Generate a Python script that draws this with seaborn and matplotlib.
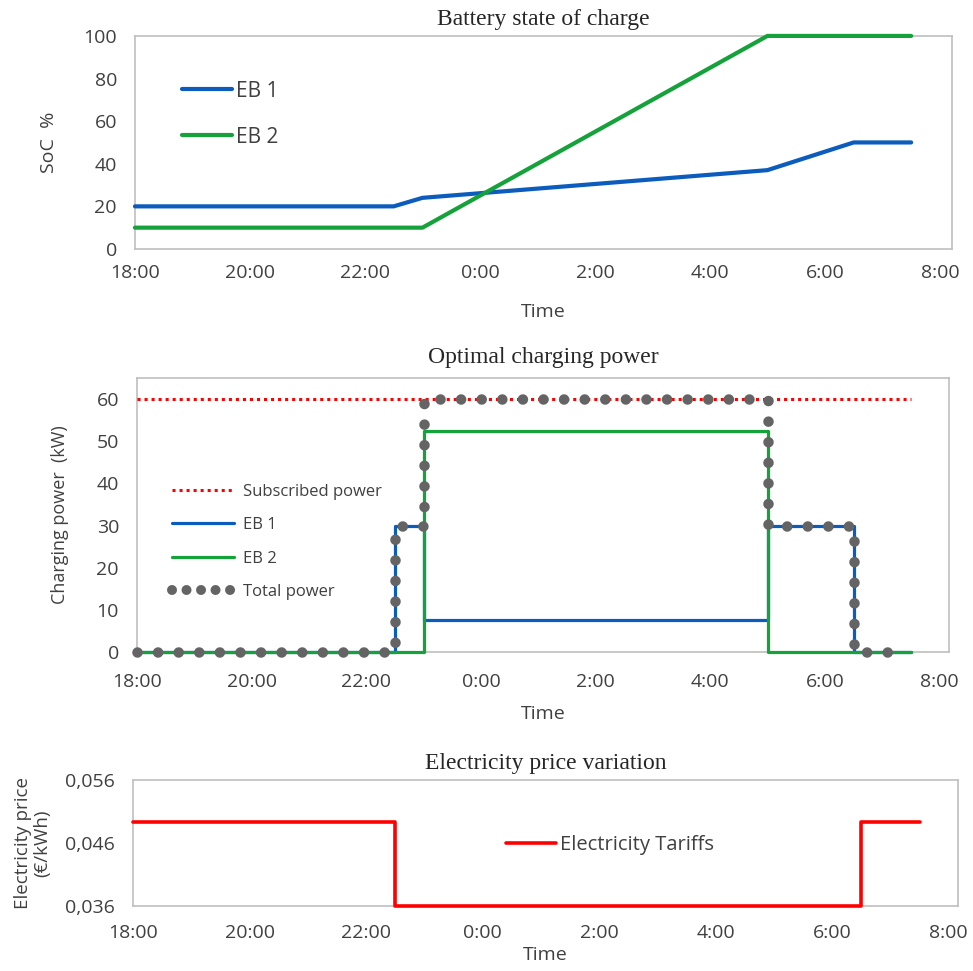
import matplotlib
matplotlib.use("Agg")
import matplotlib.pyplot as plt
from matplotlib.lines import Line2D
import pandas as pd
import seaborn as sns

# ── Data (time in hours from 18:00, 24 = midnight) ───────────────────────────
soc_t = [18, 22.5, 23, 29, 30.5, 31.5]
eb1_soc = [20, 20, 24, 37, 50, 50]
eb2_soc = [10, 10, 10, 100, 100, 100]

power_t = [18, 22.5, 23, 29, 30.5, 31.5]
eb1_kw = [0, 30, 7.5, 30, 0, 0]
eb2_kw = [0, 0, 52.5, 0, 0, 0]
total_t = [18, 22.5, 23, 29, 30.5, 31.2]
total_kw = [0, 30, 60, 30, 0, 0]
subscribed_t = [18, 31.5]
subscribed_kw = [60, 60]

price_t = [18, 22.5, 30.5, 31.5]
price = [0.0493, 0.036, 0.0493, 0.0493]

tick_hours = [18, 20, 22, 24, 26, 28, 30, 32]
tick_labels = ["18:00", "20:00", "22:00", "0:00", "2:00", "4:00", "6:00", "8:00"]

# ── Aesthetics ────────────────────────────────────────────────────────────────
BLUE = "#0B5CBD"
GREEN = "#15A23A"
RED = "#FF0000"
GREY = "#646464"
FRAME = "#BFBFBF"
TXT = "#404040"

sns.set_theme(style="white")
plt.rcParams["font.family"] = ["Open Sans", "DejaVu Sans"]
SERIF = "Liberation Serif"

fig = plt.figure(figsize=(9.73, 9.71), dpi=100)
ax1 = fig.add_axes([0.1387, 0.7436, 0.8397, 0.2194])
ax2 = fig.add_axes([0.1408, 0.3285, 0.8345, 0.2822])
ax3 = fig.add_axes([0.1367, 0.0669, 0.8479, 0.1298])


def style_axis(ax, xmax, pad):
    ax.set_xlim(18, xmax)
    ax.set_xticks(tick_hours)
    ax.set_xticklabels(tick_labels)
    ax.tick_params(axis="both", length=0, labelsize=14, labelcolor=TXT)
    ax.tick_params(axis="x", pad=pad)
    ax.tick_params(axis="y", pad=13)
    for s in ax.spines.values():
        s.set_color(FRAME)
        s.set_linewidth(1.2)
    ax.grid(False)
    # lines sit on top of the frame and are not cut at its edge
    for ln in ax.lines:
        ln.set_clip_on(False)
        ln.set_zorder(max(3, ln.get_zorder()))


# ── Battery state of charge ──────────────────────────────────────────────────
df_soc = pd.DataFrame({"t": soc_t, "EB 1": eb1_soc, "EB 2": eb2_soc})
sns.lineplot(data=df_soc, x="t", y="EB 1", ax=ax1, color=BLUE, lw=3, label="EB 1", legend=False)
sns.lineplot(data=df_soc, x="t", y="EB 2", ax=ax1, color=GREEN, lw=3, label="EB 2", legend=False)
ax1.set_ylim(0, 100)
ax1.set_yticks([0, 20, 40, 60, 80, 100])
style_axis(ax1, 32.21, 11)
ax1.set_xlabel("Time", fontsize=14, color=TXT, labelpad=15)
ax1.set_ylabel("SoC  %", fontsize=14, color=TXT, labelpad=18)
ax1.set_title("Battery state of charge", fontfamily=SERIF, fontsize=17, pad=8)
ax1.legend(loc="upper left", bbox_to_anchor=(0.057, 0.79), frameon=False, fontsize=15,
           handlelength=2.4, labelspacing=1.2, handletextpad=0.2,
           borderpad=0, borderaxespad=0, labelcolor=TXT)

# ── Optimal charging power ───────────────────────────────────────────────────
df_sub = pd.DataFrame({"t": subscribed_t, "kw": subscribed_kw})
df_pow = pd.DataFrame({"t": power_t, "EB 1": eb1_kw, "EB 2": eb2_kw})
df_tot = pd.DataFrame({"t": total_t, "kw": total_kw})

sns.lineplot(data=df_sub, x="t", y="kw", ax=ax2, color=RED, lw=2.2,
             label="Subscribed power", legend=False)
ax2.lines[-1].set_linestyle((0, (1, 1.3)))
sns.lineplot(data=df_pow, x="t", y="EB 1", ax=ax2, color=BLUE, lw=2.3,
             drawstyle="steps-post", label="EB 1", legend=False)
sns.lineplot(data=df_pow, x="t", y="EB 2", ax=ax2, color=GREEN, lw=2.3,
             drawstyle="steps-post", label="EB 2", legend=False)
sns.lineplot(data=df_tot, x="t", y="kw", ax=ax2, color=GREY, lw=7.6,
             drawstyle="steps-post", label="Total power", legend=False)
tot_line = ax2.lines[-1]
tot_line.set_linestyle((0, (0.001, 1.95)))
tot_line.set_dash_capstyle("round")

ax2.set_ylim(0, 65)
ax2.set_yticks([0, 10, 20, 30, 40, 50, 60])
style_axis(ax2, 32.16, 15)
tot_line.set_zorder(4)
ax2.set_xlabel("Time", fontsize=14, color=TXT, labelpad=10)
ax2.set_ylabel("Charging power  (kW)", fontsize=13, color=TXT, labelpad=20)
ax2.set_title("Optimal charging power", fontfamily=SERIF, fontsize=17, pad=11)

# legend swatch for total power: denser dots, like the original
tot_proxy = Line2D([], [], color=GREY, lw=7.2, linestyle=(0, (0.001, 1.45)),
                   dash_capstyle="round", label="Total power")
handles = ax2.lines[:3] + [tot_proxy]
ax2.legend(handles=handles, loc="upper left", bbox_to_anchor=(0.043, 0.615),
           frameon=False, fontsize=12, handlelength=3.7, labelspacing=1.05,
           handletextpad=0.55, borderpad=0, borderaxespad=0, labelcolor=TXT)

# ── Electricity price variation ──────────────────────────────────────────────
df_price = pd.DataFrame({"t": price_t, "price": price})
sns.lineplot(data=df_price, x="t", y="price", ax=ax3, color=RED, lw=2.6,
             drawstyle="steps-post", label="Electricity Tariffs", legend=False)
ax3.set_ylim(0.036, 0.056)
ax3.set_yticks([0.036, 0.046, 0.056])
ax3.set_yticklabels(["0,036", "0,046", "0,056"])
style_axis(ax3, 32.16, 13)
ax3.set_xlabel("Time", fontsize=14, color=TXT, labelpad=3)
ax3.set_ylabel("Electricity price\n(€/kWh)", fontsize=13.5, color=TXT, labelpad=10,
               linespacing=1.05)
ax3.set_title("Electricity price variation", fontfamily=SERIF, fontsize=17, pad=8)
ax3.legend(loc="center", bbox_to_anchor=(0.578, 0.484), frameon=False, fontsize=14.5,
           handlelength=2.5, handletextpad=0.2, borderpad=0, borderaxespad=0,
           labelcolor=TXT)

fig.savefig("out.png", dpi=100)
